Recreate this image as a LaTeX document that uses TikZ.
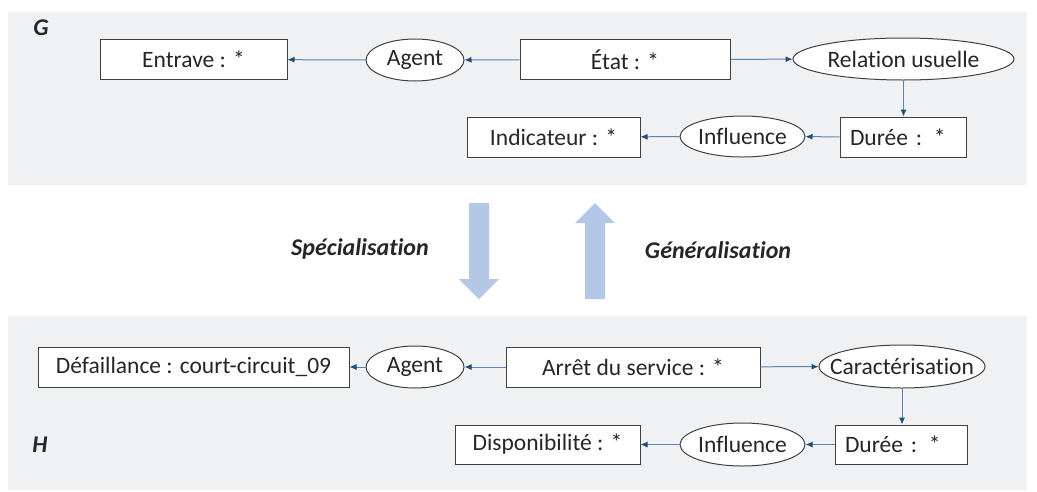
\documentclass[tikz,border=0pt]{standalone}
\usepackage{fontspec}
\setmainfont[Ligatures={NoCommon,NoRare,NoContextual}]{Carlito}
\usetikzlibrary{shapes.geometric,arrows.meta}
\definecolor{panel}{HTML}{F0F1F3}
\definecolor{bigarrow}{HTML}{B4C7E7}
\definecolor{conn}{HTML}{5A85B3}
\definecolor{tipc}{HTML}{1F4E79}
\definecolor{edge}{HTML}{404040}
\definecolor{txt}{HTML}{262626}
\tikzset{
  box/.style={draw=edge,line width=1pt,fill=white,inner sep=0pt,minimum height=#1,text=txt,font=\fontsize{23.5}{26}\selectfont},
  box/.default=40pt,
  oval/.style={ellipse,draw=edge,line width=1pt,fill=white,inner sep=0pt,text=txt,font=\fontsize{23.5}{26}\selectfont},
  rel/.style={draw=conn,line width=1pt,-{Latex[length=7pt,width=6pt,color=tipc]}},
  lbl/.style={font=\fontsize{24}{28}\selectfont\bfseries\itshape,text=txt,inner sep=0pt},
  big/.style={fill=bigarrow,draw=none}
}
\begin{document}
\begin{tikzpicture}[x=1pt,y=-1pt]
\useasboundingbox (0,0) rectangle (1037,491);
% panels
\fill[panel] (8,12) rectangle (1027,185);
\fill[panel] (8,316) rectangle (1027,490);
% labels
\node[lbl] (G) at (41,28) {G};
\node[lbl] (H) at (40,445) {H};
\node[lbl] (spec) at (360,249) {Spécialisat\kern0pt ion};
\node[lbl] (gen) at (718,250) {Généralisat\kern0pt ion};
% big arrows
\fill[big] (469,203) -- (489,203) -- (489,279) -- (499,279) -- (479,299) -- (459,279) -- (469,279) -- cycle;
\fill[big] (585,299) -- (605,299) -- (605,223) -- (615,223) -- (595,203) -- (575,223) -- (585,223) -- cycle;
% upper graph G
\node[box,minimum width=187pt] (entrave) at (193.5,59.5) {Entrave : *};
\node[oval,minimum width=98pt,minimum height=42pt] (agentG) at (415,60) {\makebox[0pt]{Agent}};
\node[box,minimum width=210pt] (etat) at (625,59.5) {État : *};
\node[oval,minimum width=221pt,minimum height=42pt] (relu) at (903.5,59) {\makebox[0pt]{Relation usuelle}};
\node[box,text width=106pt,inner xsep=10pt,align=left] (dureeG) at (903,137) {Durée : *};
\node[oval,minimum width=125pt,minimum height=41pt] (inflG) at (742.5,136.5) {\makebox[0pt]{Influence}};
\node[box,minimum width=173pt] (indic) at (553.5,137) {Indicateur : *};
\draw[rel] (agentG) -- (entrave);
\draw[rel] (etat) -- (agentG);
\draw[rel] (etat) -- (relu);
\draw[rel] (relu.south) -- (relu.south |- dureeG.north);
\draw[rel] (dureeG) -- (inflG);
\draw[rel] (inflG) -- (indic);
% lower graph H
\node[box,minimum width=311pt] (defa) at (193.5,367) {Défaillance : court-circuit\_09};
\node[oval,minimum width=98pt,minimum height=42pt] (agentH) at (415,367) {\makebox[0pt]{Agent}};
\node[box,minimum width=254pt] (arret) at (633,367) {Arrêt du service : *};
\node[oval,minimum width=166pt,minimum height=43pt] (carac) at (902,366.5) {\makebox[0pt]{Caractérisation}};
\node[box=39pt,text width=112pt,inner xsep=10pt,align=left] (dureeH) at (901,444.5) {Durée : *};
\node[oval,minimum width=125pt,minimum height=43pt] (inflH) at (742.5,444.5) {\makebox[0pt]{Influence}};
\node[box=39pt,minimum width=185pt] (dispo) at (547.5,444.5) {Disponibilité : *};
\draw[rel] (agentH) -- (defa);
\draw[rel] (arret) -- (agentH);
\draw[rel] (arret) -- (carac);
\draw[rel] (carac.south) -- (carac.south |- dureeH.north);
\draw[rel] (dureeH) -- (inflH);
\draw[rel] (inflH) -- (dispo);
\end{tikzpicture}
\end{document}
